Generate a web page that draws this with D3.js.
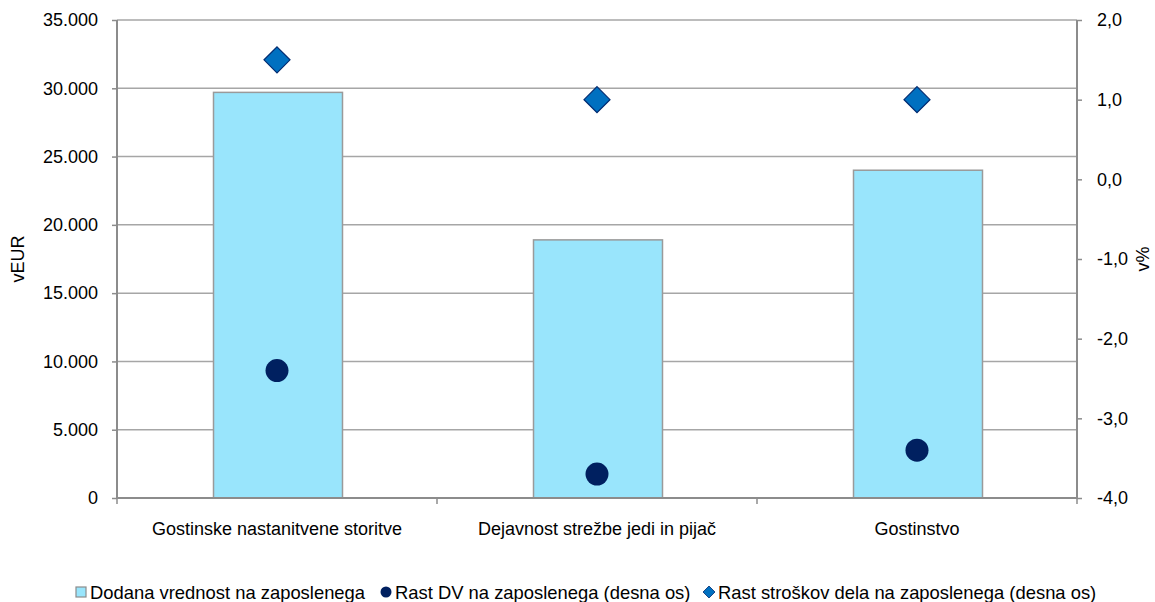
<!DOCTYPE html>
<html><head><meta charset="utf-8">
<script src="https://cdn.jsdelivr.net/npm/d3@7"></script>
<style>body{margin:0;background:#fff}svg{display:block;font-family:"Liberation Sans",Arial,sans-serif}</style>
</head><body><svg id="c" width="1155" height="602"></svg>
<script>
const categories = ["Gostinske nastanitvene storitve","Dejavnost strežbe jedi in pijač","Gostinstvo"];
const dodanaVrednost = [29700, 18900, 24000];
const rastDV = [-2.4, -3.7, -3.4];
const rastStroskov = [1.5, 1.0, 1.0];
const leftTicks = [0,5000,10000,15000,20000,25000,30000,35000];
const rightTicks = [-4,-3,-2,-1,0,1,2];
const seriesNames = ["Dodana vrednost na zaposlenega","Rast DV na zaposlenega (desna os)","Rast stroškov dela na zaposlenega (desna os)"];

const svg = d3.select("#c");
const L=117, R=1077, T=20, B=498;
const FS = 18;
const x = d3.scaleBand().domain(categories).range([L,R]).paddingInner(0).paddingOuter(0);
const yL = d3.scaleLinear().domain([0,35000]).range([B,T]);
const yR = d3.scaleLinear().domain([-4,2]).range([B,T]);
const fmtL = v => d3.format(",")(v).replace(/,/g,".");
const fmtR = v => d3.format(".1f")(v).replace(".",",").replace("\u2212","-");

// gridlines
svg.append("g").selectAll("line").data(leftTicks.filter(d=>d>0)).join("line")
  .attr("x1",L).attr("x2",R).attr("y1",d=>yL(d)).attr("y2",d=>yL(d))
  .attr("stroke","#a6a6a6").attr("stroke-width",1.5);

// bars
const bw = 129;
svg.append("g").selectAll("rect").data(dodanaVrednost).join("rect")
  .attr("x",(d,i)=>x(categories[i])+x.bandwidth()/2-bw/2+1)
  .attr("width",bw)
  .attr("y",d=>yL(d)).attr("height",d=>B-yL(d))
  .attr("fill","#99e5fc").attr("stroke","#9a9a9a").attr("stroke-width",1.5);

// axes
const axL = svg.append("g").attr("transform",`translate(${L},0)`)
  .call(d3.axisLeft(yL).tickValues(leftTicks).tickFormat(fmtL).tickSize(5).tickPadding(14));
const axR = svg.append("g").attr("transform",`translate(${R},0)`)
  .call(d3.axisRight(yR).tickValues(rightTicks).tickFormat(fmtR).tickSize(5).tickPadding(15));
const axB = svg.append("g").attr("transform",`translate(0,${B})`)
  .call(d3.axisBottom(x).tickSize(0).tickPadding(24));
[axL,axR,axB].forEach(a=>{
  a.select(".domain").attr("stroke","#8c8c8c").attr("stroke-width",2);
  a.selectAll(".tick line").attr("stroke","#8c8c8c").attr("stroke-width",1.5);
  a.selectAll("text").attr("font-size",FS).attr("fill","#000").attr("font-family","Liberation Sans, Arial, sans-serif");
});
axL.select(".domain").attr("d",`M0,${T}V${B}`);
axR.select(".domain").attr("d",`M0,${T}V${B}`);
axB.select(".domain").attr("d",`M${L},0H${R}`);
// category boundary ticks
svg.append("g").selectAll("line").data(d3.range(categories.length+1)).join("line")
  .attr("x1",i=>L+i*x.step()).attr("x2",i=>L+i*x.step())
  .attr("y1",B).attr("y2",B+6).attr("stroke","#8c8c8c").attr("stroke-width",1.5);

// axis titles
svg.append("text").attr("transform","translate(24,259) rotate(-90)").attr("text-anchor","middle")
  .attr("font-size",FS).text("vEUR");
svg.append("text").attr("transform","translate(1149,259) rotate(-90)").attr("text-anchor","middle")
  .attr("font-size",FS).text("v%");

// diamonds
const ds = 13;
svg.append("g").selectAll("path").data(rastStroskov).join("path")
  .attr("d",(d,i)=>{const cx=x(categories[i])+x.bandwidth()/2, cy=yR(d);
    return `M${cx},${cy-ds}L${cx+ds},${cy}L${cx},${cy+ds}L${cx-ds},${cy}Z`;})
  .attr("fill","#0070c0").attr("stroke","#002a70").attr("stroke-width",1.2);
// circles
svg.append("g").selectAll("circle").data(rastDV).join("circle")
  .attr("cx",(d,i)=>x(categories[i])+x.bandwidth()/2).attr("cy",d=>yR(d)).attr("r",11.5)
  .attr("fill","#002060");

// legend
const lg = svg.append("g").attr("font-size",18.4);
const lx = [76, 381, 704];
lg.append("rect").attr("x",lx[0]).attr("y",587).attr("width",10).attr("height",10)
  .attr("fill","#99e5fc").attr("stroke","#8c8c8c").attr("stroke-width",1.2);
lg.append("circle").attr("cx",lx[1]+5).attr("cy",592).attr("r",5.5).attr("fill","#002060");
lg.append("path").attr("d",`M${lx[2]+5},586L${lx[2]+11},592L${lx[2]+5},598L${lx[2]-1},592Z`)
  .attr("fill","#0070c0").attr("stroke","#002a70").attr("stroke-width",0.8);
lg.selectAll("text").data(seriesNames).join("text")
  .attr("x",(d,i)=>lx[i]+14).attr("y",599).text(d=>d);
</script></body></html>
